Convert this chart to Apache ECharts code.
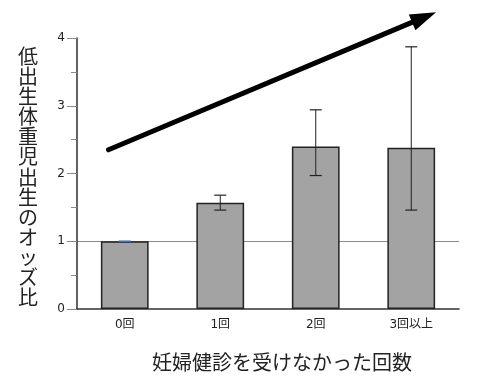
<!DOCTYPE html>
<html>
<head>
<meta charset="utf-8">
<script src="https://cdn.jsdelivr.net/npm/echarts@6/dist/echarts.min.js"></script>
<style>
html,body{margin:0;padding:0;background:#fff;}
#chart{width:480px;height:386px;}
</style>
</head>
<body>
<div id="chart"></div>
<script>
const categories = ['0回', '1回', '2回', '3回以上'];
const oddsRatios = [1.00, 1.57, 2.40, 2.38];
const ciLower = [1.00, 1.46, 1.97, 1.46];
const ciUpper = [1.00, 1.68, 2.94, 3.87];
const capColors = ['#4a6fc4', '#222', '#222', '#222'];
const yTicks = [0, 1, 2, 3, 4];
const referenceValue = 1;
const trendArrow = [[0.33, 2.35], [3.76, 4.38]];
const yTitle = '低出生体重児出生のオッズ比';
const xTitle = '妊婦健診を受けなかった回数';

const chart = echarts.init(document.getElementById('chart'), null, {renderer: 'canvas'});
const fontFam = '"DejaVu Sans", "Noto Sans CJK JP", sans-serif';

const errData = categories.map((c, i) => [i, ciLower[i], ciUpper[i], i]);

chart.setOption({
  animation: false,
  backgroundColor: '#fff',
  grid: {left: 77, right: 21, top: 38, bottom: 77, containLabel: false},
  xAxis: [{
    type: 'category',
    data: categories,
    axisLine: {show: true, lineStyle: {color: '#333', width: 1.6}},
    axisTick: {show: false},
    axisLabel: {color: '#222', fontSize: 12, margin: 10, fontFamily: fontFam},
    splitLine: {show: false}
  }, {
    type: 'value', min: 0, max: 4, show: false
  }],
  yAxis: {
    type: 'value',
    min: yTicks[0], max: yTicks[yTicks.length - 1], interval: 1,
    axisLine: {show: true, lineStyle: {color: '#3a3a3a', width: 1.6}},
    axisTick: {show: true, length: 10, lineStyle: {color: '#888', width: 1}},
    minorTick: {show: true, splitNumber: 2, length: 6, lineStyle: {color: '#888', width: 1}},
    axisLabel: {color: '#222', fontSize: 12, margin: 12, fontFamily: fontFam},
    splitLine: {
      show: true,
      lineStyle: {
        color: yTicks.map(v => v === referenceValue ? '#8a8a8a' : 'rgba(0,0,0,0)'),
        width: 1
      }
    }
  },
  series: [{
    type: 'bar',
    data: oddsRatios,
    barWidth: '50%',
    itemStyle: {color: '#a2a3a2', borderColor: '#222', borderWidth: 1.5},
    z: 2
  }, {
    type: 'custom',
    data: errData,
    z: 3,
    renderItem: function (params, api) {
      const i = api.value(0);
      const lo = api.coord([i, api.value(1)]);
      const hi = api.coord([i, api.value(2)]);
      const hw = 6;
      const col = capColors[api.value(3)];
      return {
        type: 'group',
        children: [
          {type: 'line', shape: {x1: hi[0], y1: hi[1], x2: lo[0], y2: lo[1]}, style: {stroke: col, lineWidth: 1}},
          {type: 'line', shape: {x1: hi[0] - hw, y1: hi[1], x2: hi[0] + hw, y2: hi[1]}, style: {stroke: col, lineWidth: 1.2}},
          {type: 'line', shape: {x1: lo[0] - hw, y1: lo[1], x2: lo[0] + hw, y2: lo[1]}, style: {stroke: col, lineWidth: 1.2}}
        ]
      };
    }
  }, {
    type: 'custom',
    xAxisIndex: 1,
    data: [[trendArrow[0][0], trendArrow[0][1], trendArrow[1][0], trendArrow[1][1]]],
    clip: false,
    z: 5,
    renderItem: function (params, api) {
      const p0 = api.coord([api.value(0), api.value(1)]);
      const p1 = api.coord([api.value(2), api.value(3)]);
      const dx = p1[0] - p0[0], dy = p1[1] - p0[1];
      const len = Math.sqrt(dx * dx + dy * dy);
      const ux = dx / len, uy = dy / len;
      const headLen = 26, headHalf = 8.5;
      const bx = p1[0] - ux * headLen, by = p1[1] - uy * headLen;
      const nx = -uy, ny = ux;
      return {
        type: 'group',
        children: [
          {type: 'line', shape: {x1: p0[0], y1: p0[1], x2: bx + ux * 3, y2: by + uy * 3},
           style: {stroke: '#000', lineWidth: 5, lineCap: 'round'}},
          {type: 'polygon', shape: {points: [
            [p1[0], p1[1]],
            [bx + nx * headHalf, by + ny * headHalf],
            [bx - nx * headHalf, by - ny * headHalf]
          ]}, style: {fill: '#000'}}
        ]
      };
    }
  }],
  graphic: [{
    type: 'text',
    x: 28, y: 177,
    style: {
      text: yTitle.split('').join('\n'),
      fontSize: 20, lineHeight: 20.1,
      fontFamily: '"Noto Sans CJK JP", sans-serif',
      fill: '#222',
      align: 'center', verticalAlign: 'middle'
    }
  }, {
    type: 'text',
    x: 282, y: 362,
    style: {
      text: xTitle,
      fontSize: 20,
      fontFamily: '"Noto Sans CJK JP", sans-serif',
      fill: '#222',
      align: 'center', verticalAlign: 'middle'
    }
  }]
});
</script>
</body>
</html>
